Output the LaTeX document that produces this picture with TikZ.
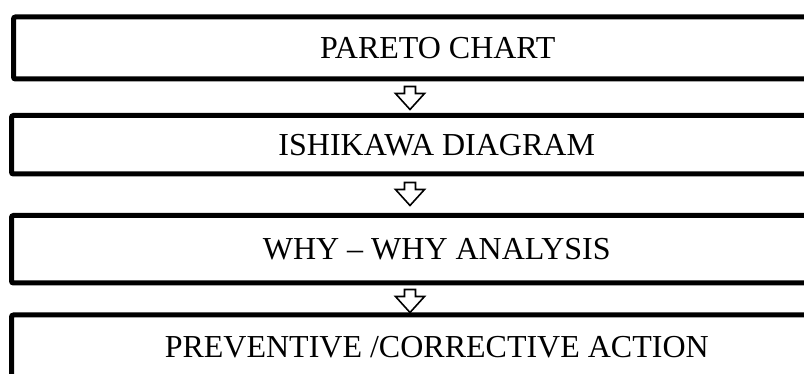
\documentclass[tikz,border=0pt]{standalone}
\usepackage{fontspec}
\setmainfont{Liberation Serif}
\begin{document}
\begin{tikzpicture}[x=1pt,y=-1pt,
  stage/.style={draw, line width=5pt, rounded corners=2pt, inner sep=0pt,
    font=\fontsize{32}{36}\selectfont, text height=21pt, text depth=0pt},
  flowarrow/.style={draw, line width=1.6pt, fill=white, line join=miter},
  hollowdown/.pic={\draw[flowarrow] (-5.5,0) -- (5.5,0) -- (5.5,7) -- (14.5,7)
      -- (0,23) -- (-14.5,7) -- (-5.5,7) -- cycle;}]
\clip (0,0) rectangle (804,374);

% process stages (right ends run past the page edge)
\node[stage, minimum width=848.5pt, minimum height=62pt]   (pareto)   at (437.75,48)     {PARETO CHART};
\node[stage, minimum width=850.5pt, minimum height=58.5pt] (ishikawa) at (436.75,144.75) {ISHIKAWA DIAGRAM};
\node[stage, minimum width=850.5pt, minimum height=67.5pt] (whywhy)   at (436.75,249.25) {WHY -- WHY ANALYSIS};
\node[stage, minimum width=850.5pt, minimum height=63pt]   (action)   at (436.75,346.5)  {PREVENTIVE /CORRECTIVE ACTION};

% hollow arrows between the stages
\coordinate (a1) at ([yshift=-5pt]pareto.south -| 410,0);
\coordinate (a2) at ([yshift=-6pt]ishikawa.south -| 410,0);
\coordinate (a3) at ([yshift=-4pt]whywhy.south -| 410,0);
\pic at (a1) {hollowdown};
\pic at (a2) {hollowdown};
\pic at (a3) {hollowdown};
\end{tikzpicture}
\end{document}
